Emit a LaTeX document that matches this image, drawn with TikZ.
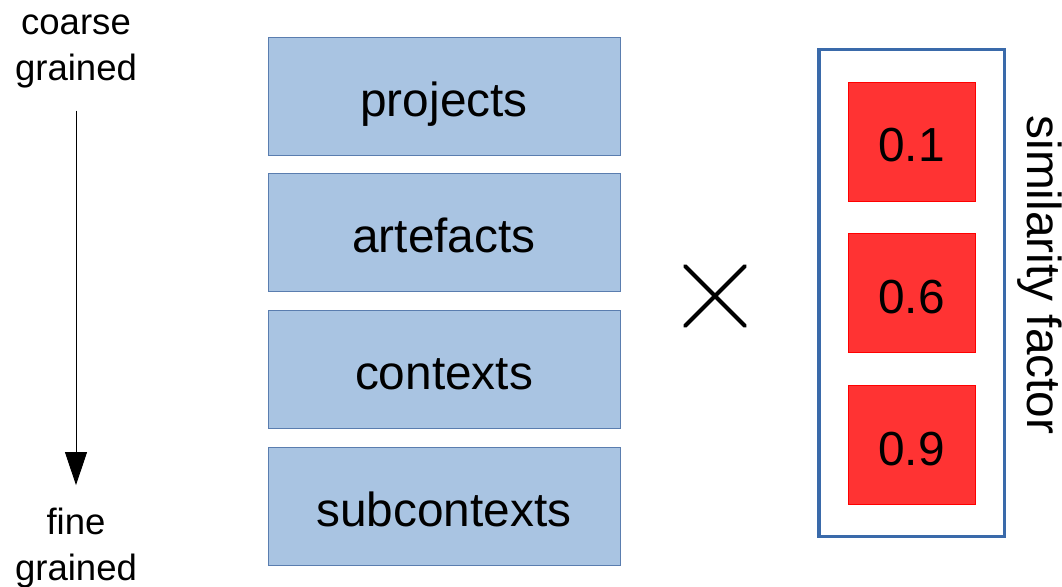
\documentclass[tikz,border=0pt]{standalone}
\usepackage{fontspec}
\setmainfont{Liberation Sans}
\usetikzlibrary{positioning,chains,fit,shapes,arrows.meta}
\definecolor{lvlblue}{RGB}{169,196,226}
\definecolor{lvledge}{RGB}{90,125,175}
\definecolor{boxblue}{RGB}{58,106,170}
\definecolor{factred}{RGB}{255,51,51}

\begin{document}
\begin{tikzpicture}[
  every node/.style={font=\fontsize{34}{40}\selectfont},
  lvl/.style={draw=lvledge,fill=lvlblue,line width=0.6pt,inner sep=0pt,
    text height=1.2cm,text depth=0.2cm,
    minimum width=8.8cm,minimum height=2.95cm},
  factor/.style={draw=red,fill=factred,line width=0.5pt,inner sep=0pt,
    text height=1.2cm,text depth=0.2cm,
    minimum width=3.175cm,minimum height=2.975cm},
  factorbox/.style={draw=boxblue,line width=2.2pt,inner xsep=0.72cm,inner ysep=0.8cm},
  grain/.style={align=center,font=\fontsize{26}{32.6}\selectfont},
  times/.style={cross out,draw,line width=2.8pt,line cap=round,inner sep=0pt,minimum size=1.4cm}
]
\useasboundingbox (0,0) rectangle (26.55,-14.65);

% the granularity
\node[grain] (coarse) at (1.9,-1.28) {coarse\\grained};
\node[grain] (fine) at (1.9,-13.7) {fine\\grained};
\draw[line width=0.7pt,-{Triangle[length=0.825cm,width=0.55cm]},
  shorten <=0.45cm,shorten >=0.45cm] (coarse) -- (fine);

% the levels
\begin{scope}[xshift=11.1cm,yshift=-2.4cm,start chain=going below,node distance=0.45cm]
\foreach \lvl in {projects,artefacts,contexts,subcontexts}
  \node[lvl,on chain] (\lvl) {\lvl};
\end{scope}

% the product
\node[times] (x) at (17.875,-7.4) {};

% the factors
\begin{scope}[xshift=22.79cm,yshift=-3.54cm,start chain=going below,node distance=0.8cm]
\foreach \val [count=\i] in {0.1,0.6,0.9}
  \node[factor,on chain] (f\i) {\val};
\end{scope}

\node[factorbox,fit=(f1) (f3)] (factors) {};
\node[rotate=-90,inner sep=0pt] (sim) at (26.0,-6.875) {similarity factor};
\end{tikzpicture}
\end{document}
